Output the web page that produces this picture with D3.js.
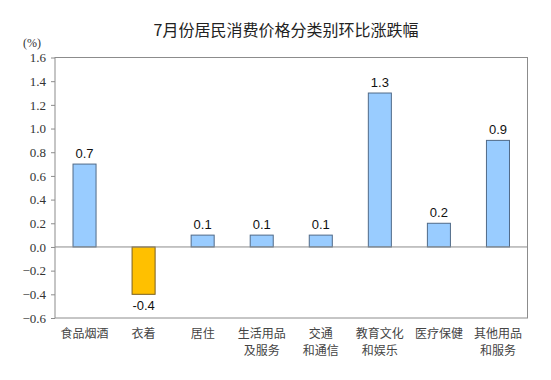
<!DOCTYPE html>
<html><head><meta charset="utf-8">
<script src="https://cdn.jsdelivr.net/npm/d3@7"></script>
<style>body{margin:0;background:#fff}</style>
</head><body><svg id="c" width="551" height="380"></svg>
<script>
const categories = [["食品烟酒"],["衣着"],["居住"],["生活用品","及服务"],["交通","和通信"],["教育文化","和娱乐"],["医疗保健"],["其他用品","和服务"]];
const values = [0.7,-0.4,0.1,0.1,0.1,1.3,0.2,0.9];
const yTicks = [1.6,1.4,1.2,1.0,0.8,0.6,0.4,0.2,0.0,-0.2,-0.4,-0.6];
const title = "7月份居民消费价格分类别环比涨跌幅";
const unit = "(%)";

const svg = d3.select("#c");
const L=55, R=527.5, T=57.5, B=318;
const x = d3.scaleBand().domain(d3.range(values.length)).range([L,R]).paddingInner(0.61).paddingOuter(0.305);
const y = d3.scaleLinear().domain([-0.6,1.6]).range([B,T]);

svg.append("text").attr("x",286).attr("y",36).attr("text-anchor","middle")
  .attr("font-family","'Noto Sans CJK SC'").attr("font-size",16).attr("fill","#222").text(title);
svg.append("text").attr("x",32).attr("y",47).attr("text-anchor","middle")
  .attr("font-family","'Liberation Serif'").attr("font-size",12).attr("fill","#333").text(unit);

// frame
svg.append("rect").attr("x",L).attr("y",T).attr("width",R-L).attr("height",B-T)
  .attr("fill","none").attr("stroke","#8c8c8c").attr("stroke-width",1);

const yAxis = d3.axisLeft(y).tickValues(yTicks).tickFormat(d3.format(".1f")).tickSize(4).tickPadding(5);
const ga = svg.append("g").attr("transform",`translate(${L},0)`).call(yAxis);
ga.select(".domain").remove();
ga.selectAll("line").attr("stroke","#8c8c8c");
ga.selectAll("text").attr("font-family","'Liberation Serif'").attr("font-size",13).attr("fill","#333");

svg.selectAll("rect.bar").data(values).join("rect").attr("class","bar")
  .attr("x",(d,i)=>x(i)).attr("width",x.bandwidth())
  .attr("y",d=>y(Math.max(0,d))).attr("height",d=>Math.abs(y(d)-y(0)))
  .attr("fill",d=>d<0?"#FFC000":"#99CCFF")
  .attr("stroke",d=>d<0?"#7a6020":"#506a88").attr("stroke-width",1);

// zero line
svg.append("line").attr("x1",L).attr("x2",R).attr("y1",y(0)).attr("y2",y(0))
  .attr("stroke","#8c8c8c").attr("stroke-width",1);

svg.selectAll("text.val").data(values).join("text").attr("class","val")
  .attr("x",(d,i)=>x(i)+x.bandwidth()/2)
  .attr("y",d=>d<0?y(d)+16:y(d)-6)
  .attr("text-anchor","middle").attr("font-family","'Liberation Sans'").attr("font-size",13).attr("fill","#111")
  .text(d=>d.toFixed(1));

const cg = svg.selectAll("g.cat").data(categories).join("g").attr("class","cat");
cg.each(function(lines,i){
  const g=d3.select(this);
  lines.forEach((t,j)=>{
    g.append("text").attr("x",x(i)+x.bandwidth()/2).attr("y",338+j*17)
     .attr("text-anchor","middle").attr("font-family","'Noto Sans CJK SC'").attr("font-size",12)
     .attr("fill","#444").text(t);
  });
});
</script></body></html>
